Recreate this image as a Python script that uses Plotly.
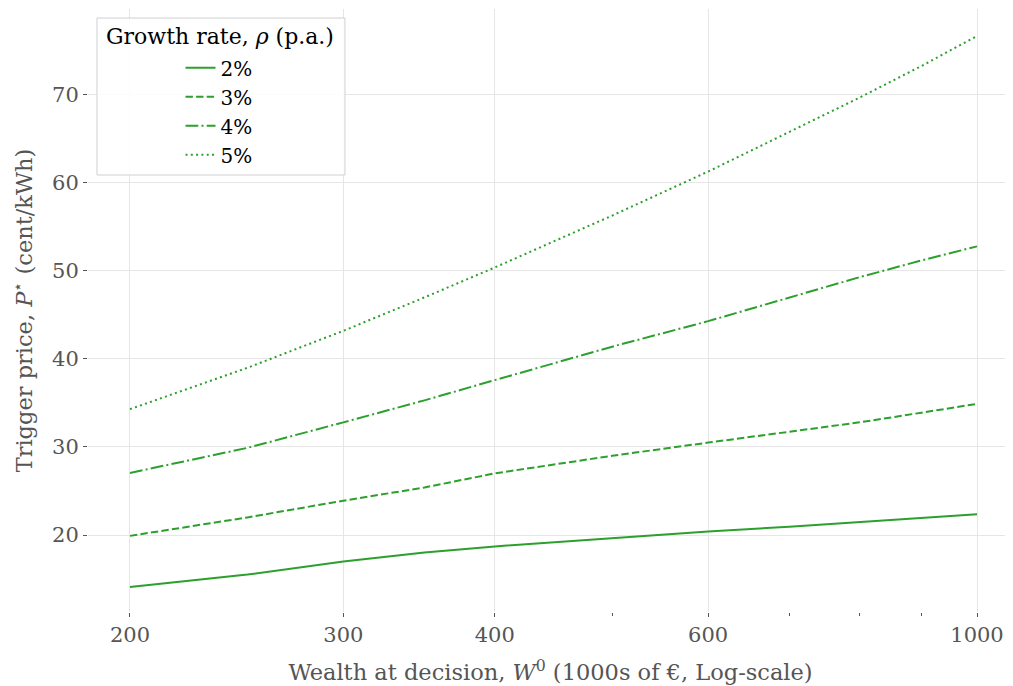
import plotly.graph_objects as go

wealth = [200, 250, 300, 350, 400, 500, 600, 700, 800, 900, 1000]
p_2pct = [14.1, 15.5, 17.0, 18.0, 18.7, 19.65, 20.4, 20.95, 21.45, 21.93, 22.35]
p_3pct = [19.9, 22.0, 23.9, 25.4, 27.0, 29.0, 30.5, 31.7, 32.8, 33.9, 34.9]
p_4pct = [27.05, 29.9, 32.8, 35.3, 37.6, 41.4, 44.3, 47.0, 49.3, 51.2, 52.8]
p_5pct = [34.3, 39.0, 43.2, 47.0, 50.4, 56.3, 61.3, 65.8, 69.7, 73.3, 76.7]
series_labels = ["2%", "3%", "4%", "5%"]
x_tickvals = [200, 300, 400, 600, 1000]
x_minor_tickvals = [500, 700, 800, 900]
y_tickvals = [20, 30, 40, 50, 60, 70]

GREEN = "#2ca02c"
FONT = "DejaVu Serif, serif"
GREY = "#555555"
dashes = ["solid", "7.4px,3.2px", "12.8px,3.2px,2px,3.2px", "2px,3.3px"]

fig = go.Figure()
for i, (lab, ys) in enumerate(zip(series_labels, [p_2pct, p_3pct, p_4pct, p_5pct])):
    fig.add_trace(go.Scatter(
        x=wealth, y=ys, mode="lines", name=lab, legendgroup=lab,
        line=dict(color=GREEN, width=2, dash=dashes[i]),
    ))

fig.update_layout(
    width=1013, height=686,
    margin=dict(l=80, r=8, t=1, b=82),
    paper_bgcolor="white", plot_bgcolor="white",
    font=dict(family=FONT, size=21, color=GREY),
    showlegend=True,
    legend=dict(
        x=0.100, y=0.935, xanchor="left", yanchor="top",
        bgcolor="rgba(0,0,0,0)", borderwidth=0,
        font=dict(family=FONT, size=20, color="black"),
        tracegroupgap=0,
    ),
    shapes=[dict(
        type="rect", xref="paper", yref="paper",
        x0=0.0097, x1=0.2778, y0=0.7247, y1=0.985,
        line=dict(color="#d0d0d0", width=1), fillcolor="rgba(255,255,255,0.85)",
        layer="above",
    )],
    annotations=[dict(
        text="Growth rate, <i>ρ</i> (p.a.)", xref="paper", yref="paper",
        x=0.1427, y=0.9536, xanchor="center", yanchor="middle", showarrow=False,
        font=dict(family=FONT, size=22, color="black"),
    )],
)

fig.update_xaxes(
    type="log", range=[2.2664, 3.0297],
    tickvals=x_tickvals, ticktext=[str(v) for v in x_tickvals],
    showgrid=True, gridcolor="#e6e6e6", gridwidth=1,
    ticks="outside", ticklen=4, tickcolor=GREY, tickwidth=1,
    showline=False, zeroline=False,
    tickfont=dict(family=FONT, size=21, color=GREY),
    minor=dict(tickvals=x_minor_tickvals, ticks="outside", ticklen=3,
               tickcolor=GREY, tickwidth=1, showgrid=False),
    title=dict(text="Wealth at decision, <i>W</i><sup>0</sup> (1000s of €, Log-scale)",
               font=dict(family=FONT, size=22.5, color=GREY), standoff=18),
)
fig.update_yaxes(
    range=[11.25, 79.77],
    tickvals=y_tickvals, ticktext=[str(v) for v in y_tickvals],
    showgrid=True, gridcolor="#e6e6e6", gridwidth=1,
    ticks="outside", ticklen=4, tickcolor=GREY, tickwidth=1,
    showline=False, zeroline=False,
    tickfont=dict(family=FONT, size=21, color=GREY),
    title=dict(text="Trigger price, <i>P</i><sup>⋆</sup> (cent/kWh)",
               font=dict(family=FONT, size=22.5, color=GREY), standoff=16),
)

fig.write_html("out.html")
